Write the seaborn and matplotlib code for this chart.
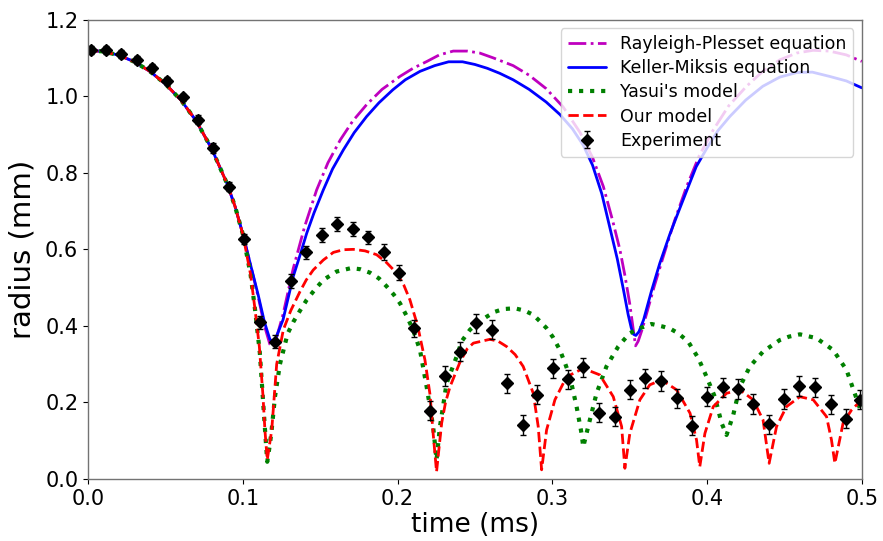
import numpy as np
import pandas as pd
import matplotlib
matplotlib.use("Agg")
import matplotlib.pyplot as plt
import seaborn as sns

# ---------------- data ----------------
t_rp = [0.000, 0.010, 0.020, 0.030, 0.040, 0.050, 0.060, 0.070, 0.080, 0.090, 0.095, 0.100,
        0.105, 0.110, 0.114, 0.1175, 0.119, 0.1215, 0.126, 0.1326, 0.140, 0.1477, 0.155,
        0.163, 0.171, 0.180, 0.190, 0.2016, 0.210, 0.219, 0.227, 0.236, 0.245, 0.253,
        0.262, 0.2747, 0.285, 0.296, 0.307, 0.318, 0.326, 0.333, 0.339, 0.3437, 0.347,
        0.350, 0.352, 0.3538, 0.3555, 0.358, 0.361, 0.366, 0.3717, 0.379, 0.3868, 0.395,
        0.404, 0.414, 0.4255, 0.436, 0.447, 0.458, 0.4685, 0.479, 0.490, 0.500]
r_rp = [1.120, 1.117, 1.107, 1.090, 1.065, 1.032, 0.990, 0.935, 0.862, 0.770, 0.712, 0.640,
        0.560, 0.475, 0.400, 0.352, 0.347, 0.365, 0.430, 0.550, 0.660, 0.755, 0.826,
        0.886, 0.935, 0.978, 1.018, 1.052, 1.073, 1.091, 1.108, 1.118, 1.118, 1.113,
        1.100, 1.080, 1.055, 1.020, 0.972, 0.905, 0.840, 0.764, 0.675, 0.599, 0.530,
        0.459, 0.400, 0.348, 0.360, 0.390, 0.433, 0.505, 0.581, 0.675, 0.764, 0.845,
        0.912, 0.975, 1.026, 1.065, 1.095, 1.113, 1.120, 1.118, 1.108, 1.091]

t_km = [0.000, 0.010, 0.020, 0.030, 0.040, 0.050, 0.060, 0.070, 0.080, 0.090, 0.095, 0.100,
        0.105, 0.110, 0.114, 0.1175, 0.119, 0.1215, 0.126, 0.1326, 0.137, 0.1413, 0.146,
        0.152, 0.158, 0.165, 0.172, 0.180, 0.188, 0.197, 0.205, 0.2145, 0.224, 0.233,
        0.242, 0.250, 0.258, 0.266, 0.2747, 0.285, 0.296, 0.305, 0.313, 0.320, 0.326,
        0.332, 0.337, 0.342, 0.346, 0.349, 0.351, 0.3525, 0.354, 0.356, 0.359, 0.364,
        0.3695, 0.376, 0.382, 0.388, 0.393, 0.400, 0.407, 0.4147, 0.425, 0.436, 0.447,
        0.458, 0.468, 0.479, 0.490, 0.500]
r_km = [1.120, 1.117, 1.107, 1.090, 1.065, 1.032, 0.990, 0.935, 0.862, 0.770, 0.712, 0.640,
        0.560, 0.480, 0.410, 0.365, 0.360, 0.370, 0.416, 0.529, 0.585, 0.642, 0.695,
        0.755, 0.810, 0.860, 0.905, 0.947, 0.983, 1.017, 1.043, 1.065, 1.080, 1.090,
        1.090, 1.083, 1.073, 1.060, 1.043, 1.018, 0.985, 0.952, 0.915, 0.872, 0.820,
        0.745, 0.660, 0.575, 0.494, 0.430, 0.395, 0.378, 0.375, 0.385, 0.416, 0.490,
        0.564, 0.640, 0.703, 0.765, 0.816, 0.865, 0.910, 0.947, 0.990, 1.026, 1.050,
        1.062, 1.063, 1.052, 1.040, 1.022]

t_ya = [0.000, 0.010, 0.020, 0.030, 0.040, 0.050, 0.060, 0.070, 0.080, 0.090, 0.095, 0.100,
        0.105, 0.108, 0.111, 0.113, 0.1145, 0.1158, 0.1175, 0.1187, 0.1208, 0.124, 0.129,
        0.1326, 0.137, 0.1413, 0.146, 0.152, 0.1606, 0.170, 0.176, 0.1822, 0.188, 0.193,
        0.1975, 0.2016, 0.206, 0.210, 0.2145, 0.2188, 0.223, 0.2252, 0.2274, 0.2317,
        0.2382, 0.2415, 0.2468, 0.2525, 0.2576, 0.263, 0.2683, 0.2758, 0.282, 0.2877,
        0.292, 0.2963, 0.3005, 0.3049, 0.308, 0.3114, 0.3157, 0.3189, 0.320, 0.3232,
        0.3286, 0.335, 0.3426, 0.3466, 0.3501, 0.3566, 0.3641, 0.3717, 0.3765, 0.3813,
        0.3878, 0.3943, 0.3997, 0.405, 0.4094, 0.4126, 0.4169, 0.4212, 0.4277, 0.4362,
        0.447, 0.453, 0.460, 0.4707, 0.4815, 0.4901, 0.4966, 0.500]
r_ya = [1.120, 1.117, 1.107, 1.090, 1.065, 1.032, 0.990, 0.935, 0.862, 0.770, 0.712, 0.640,
        0.535, 0.440, 0.330, 0.210, 0.120, 0.045, 0.090, 0.130, 0.215, 0.300, 0.380,
        0.410, 0.440, 0.468, 0.492, 0.520, 0.542, 0.551, 0.548, 0.539, 0.524, 0.503,
        0.482, 0.459, 0.425, 0.390, 0.337, 0.241, 0.137, 0.050, 0.137, 0.250,
        0.320, 0.360, 0.390, 0.410, 0.424, 0.437, 0.444, 0.446, 0.440, 0.429,
        0.412, 0.394, 0.370, 0.337, 0.305, 0.267, 0.189, 0.119, 0.084, 0.137,
        0.224, 0.294, 0.346, 0.365, 0.381, 0.394, 0.405, 0.398, 0.392, 0.381,
        0.359, 0.316, 0.267, 0.215, 0.146, 0.115, 0.167, 0.241, 0.294, 0.333,
        0.363, 0.372, 0.378, 0.368, 0.337, 0.285, 0.210, 0.170]

t_ours = [0.000, 0.010, 0.020, 0.030, 0.040, 0.050, 0.060, 0.070, 0.080, 0.090, 0.095, 0.100,
          0.105, 0.108, 0.1107, 0.113, 0.1143, 0.1158, 0.1187, 0.1219, 0.1262, 0.131, 0.137,
          0.141, 0.1455, 0.152, 0.1585, 0.165, 0.1714, 0.179, 0.1865, 0.193, 0.1994, 0.204,
          0.208, 0.213, 0.2177, 0.221, 0.223, 0.2252, 0.2285, 0.231, 0.2339, 0.2403, 0.245,
          0.249, 0.2597, 0.265, 0.2705, 0.276, 0.2812, 0.2877, 0.2909, 0.2931, 0.2963,
          0.3017, 0.3092, 0.320, 0.3307, 0.3394, 0.3448, 0.3469, 0.3501, 0.3566, 0.363,
          0.3706, 0.3803, 0.389, 0.3932, 0.3953, 0.3986, 0.404, 0.4126, 0.4212, 0.4298,
          0.4362, 0.4401, 0.4449, 0.4513, 0.460, 0.4686, 0.4772, 0.4804, 0.4826, 0.4879,
          0.4933, 0.4987, 0.500]
r_ours = [1.120, 1.117, 1.107, 1.090, 1.065, 1.032, 0.990, 0.935, 0.862, 0.770, 0.712, 0.640,
          0.535, 0.440, 0.346, 0.220, 0.128, 0.050, 0.128, 0.300, 0.390, 0.440, 0.490,
          0.520, 0.546, 0.572, 0.592, 0.599, 0.600, 0.596, 0.586, 0.565, 0.538, 0.507,
          0.468, 0.400, 0.311, 0.220, 0.119, 0.019, 0.146, 0.200, 0.241, 0.305, 0.340,
          0.355, 0.365, 0.360, 0.346, 0.325, 0.294, 0.224, 0.137, 0.024, 0.128,
          0.207, 0.267, 0.289, 0.272, 0.215, 0.137, 0.028, 0.119, 0.207, 0.246,
          0.259, 0.233, 0.172, 0.102, 0.032, 0.119, 0.189, 0.224, 0.233, 0.207,
          0.154, 0.041, 0.137, 0.189, 0.215, 0.207, 0.163, 0.102, 0.041, 0.146,
          0.180, 0.202, 0.205]

t_exp = [0.002, 0.0116, 0.0213, 0.0314, 0.0416, 0.0512, 0.0616, 0.0713, 0.081, 0.0913,
         0.1008, 0.111, 0.121, 0.131, 0.141, 0.151, 0.161, 0.171, 0.181, 0.191, 0.201,
         0.2106, 0.221, 0.2306, 0.2403, 0.2506, 0.2608, 0.2705, 0.2808, 0.2903, 0.3002,
         0.3103, 0.320, 0.3303, 0.3404, 0.350, 0.3598, 0.370, 0.3803, 0.390, 0.400, 0.410,
         0.420, 0.430, 0.440, 0.4496, 0.4595, 0.4696, 0.4798, 0.4897, 0.4987]
r_exp = [1.121, 1.120, 1.111, 1.095, 1.074, 1.039, 0.997, 0.939, 0.865, 0.764,
         0.627, 0.409, 0.359, 0.518, 0.592, 0.637, 0.667, 0.654, 0.631, 0.593, 0.539,
         0.394, 0.178, 0.269, 0.333, 0.407, 0.390, 0.250, 0.141, 0.220, 0.289,
         0.261, 0.292, 0.173, 0.163, 0.233, 0.263, 0.256, 0.211, 0.139, 0.215, 0.240,
         0.235, 0.196, 0.143, 0.209, 0.243, 0.240, 0.195, 0.157, 0.207]
e_exp = [0.010, 0.010, 0.010, 0.010, 0.010, 0.010, 0.010, 0.012, 0.012, 0.012,
         0.014, 0.016, 0.016, 0.018, 0.018, 0.018, 0.018, 0.018, 0.018, 0.020, 0.020,
         0.022, 0.025, 0.025, 0.025, 0.025, 0.025, 0.025, 0.025, 0.025, 0.025,
         0.025, 0.025, 0.025, 0.025, 0.025, 0.025, 0.025, 0.025, 0.025, 0.025, 0.025,
         0.025, 0.025, 0.025, 0.025, 0.025, 0.025, 0.025, 0.025, 0.025]

x_ticks = [0.0, 0.1, 0.2, 0.3, 0.4, 0.5]
y_ticks = [0.0, 0.2, 0.4, 0.6, 0.8, 1.0, 1.2]

# ---------------- plotting ----------------
sns.set_style("ticks")
plt.rcParams["font.family"] = ["DejaVu Sans"]
plt.rcParams["text.color"] = "black"
plt.rcParams["axes.labelcolor"] = "black"
plt.rcParams["xtick.color"] = "black"
plt.rcParams["ytick.color"] = "black"

fig = plt.figure(figsize=(8.83, 5.41), dpi=100)
ax = fig.add_axes([0.0997, 0.1146, 0.8763, 0.849])

sns.lineplot(x=t_rp, y=r_rp, ax=ax, color="m", linestyle="-.", linewidth=2,
             sort=False, estimator=None, label="Rayleigh-Plesset equation")
sns.lineplot(x=t_km, y=r_km, ax=ax, color="b", linestyle="-", linewidth=2,
             sort=False, estimator=None, label="Keller-Miksis equation")
sns.lineplot(x=t_ya, y=r_ya, ax=ax, color="g", linestyle=":", linewidth=3,
             sort=False, estimator=None, label="Yasui's model")
sns.lineplot(x=t_ours, y=r_ours, ax=ax, color="r", linestyle="--", linewidth=2,
             sort=False, estimator=None, label="Our model")
ax.errorbar(t_exp, r_exp, yerr=e_exp, fmt="D", color="k", markersize=6,
            ecolor="k", elinewidth=1, capsize=2.5, capthick=1, label="Experiment")

ax.set_xlim(0, 0.5)
ax.set_ylim(0, 1.2)
ax.set_xticks(x_ticks)
ax.set_yticks(y_ticks)
ax.set_xticklabels([f"{v:.1f}" for v in x_ticks])
ax.set_yticklabels([f"{v:.1f}" for v in y_ticks])
ax.tick_params(labelsize=15, length=3.5, width=0.8, colors="black", direction="out")
for s in ax.spines.values():
    s.set_visible(True)
    s.set_color("0.45")
    s.set_linewidth(1.0)

ax.set_xlabel("time (ms)", fontsize=19, labelpad=2)
ax.set_ylabel("radius (mm)", fontsize=21, labelpad=6)

leg = ax.legend(loc="upper right", fontsize=12.5, labelspacing=0.35, handlelength=2.2,
                frameon=True, fancybox=True, framealpha=0.8, edgecolor="0.8",
                borderpad=0.4, handletextpad=0.8)

fig.savefig("out.png", dpi=100)
